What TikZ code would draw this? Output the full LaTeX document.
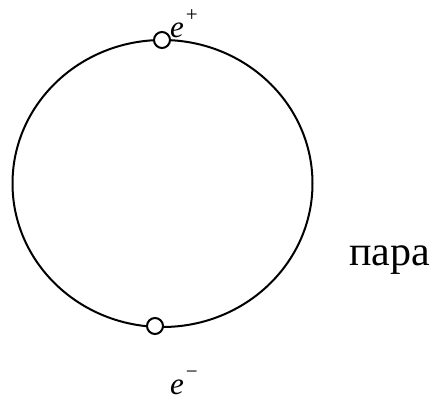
\documentclass[tikz,border=0pt]{standalone}
\usepackage{fontspec}
\setmainfont{Liberation Serif}
\tikzset{
  ring/.style={line width=2pt, black},
  particle/.style={circle, draw=black, fill=white, line width=2pt, minimum size=16pt, inner sep=0pt},
  lbl/.style={anchor=base west, inner sep=0pt, font=\fontsize{31}{36}\selectfont},
  biglbl/.style={anchor=base west, inner sep=0pt, font=\fontsize{42}{50}\selectfont}
}
\begin{document}
\begin{tikzpicture}[x=1pt,y=-1pt]
\useasboundingbox (0,0) rectangle (434,403);
\draw[ring] (162.5,183.5) ellipse [x radius=150, y radius=143.5];
\node[particle] (pos) at (162,40) {};
\node[particle] (neg) at (155,326) {};
\node[lbl] (epos) at (170,38) {\itshape e\hspace{2pt}\upshape\raisebox{16pt}{\fontsize{21}{24}\selectfont +}};
\node[lbl] (eneg) at (170,395) {\itshape e\hspace{2pt}\upshape\raisebox{16pt}{\fontsize{21}{24}\selectfont −}};
\node[biglbl] (pair) at (349,266) {пара};
\end{tikzpicture}
\end{document}
